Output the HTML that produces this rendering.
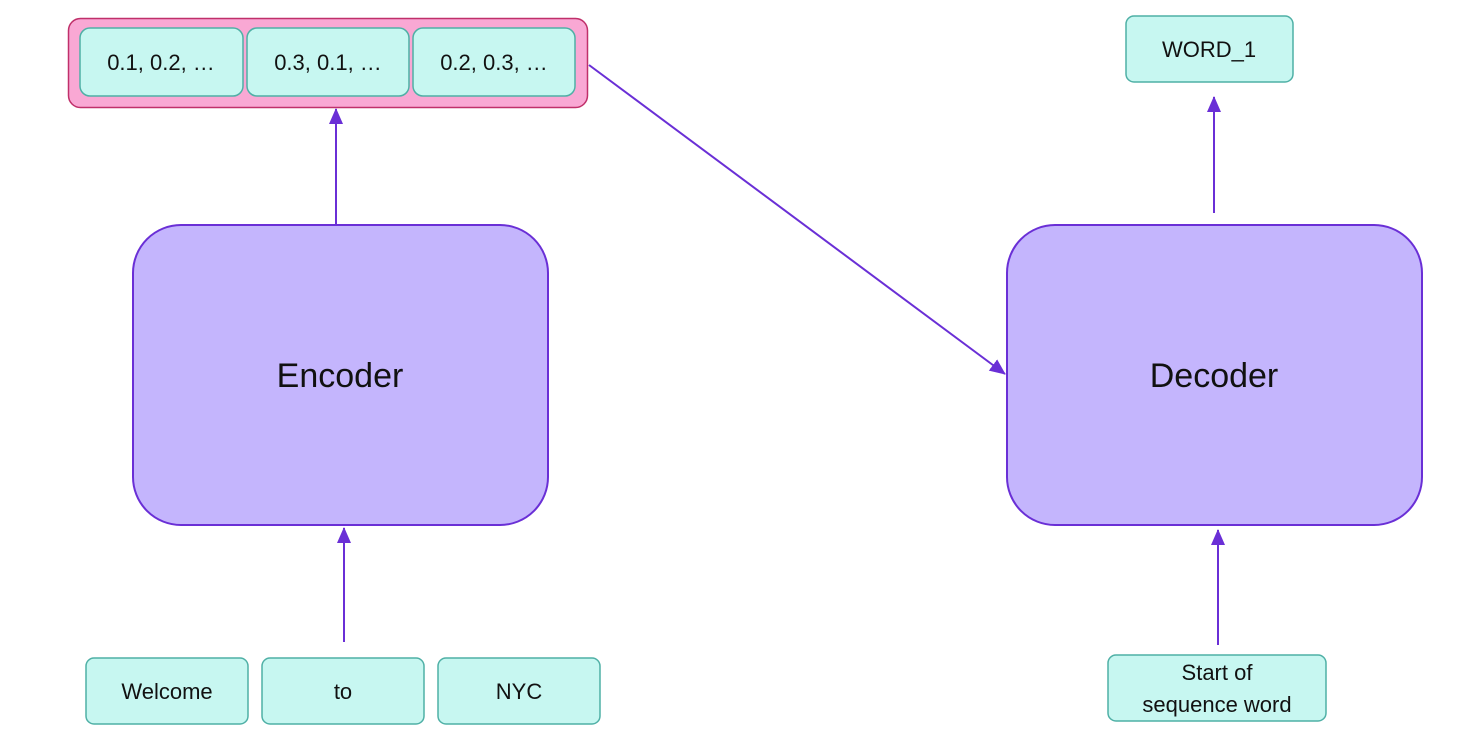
<!DOCTYPE html>
<html><head><meta charset="utf-8"><style>
html,body{margin:0;padding:0;background:#fff;}
svg{display:block;}
text{font-family:"Liberation Sans",sans-serif;fill:#111;}
</style></head><body>
<svg width="1465" height="735" viewBox="0 0 1465 735" xmlns="http://www.w3.org/2000/svg">
<defs>
<marker id="a" markerWidth="10" markerHeight="10" refX="9" refY="5" orient="auto" markerUnits="userSpaceOnUse" viewBox="0 0 10 10">
<path d="M0,0 L10,5 L0,10 z" fill="#6a2fd6" transform="scale(1)"/>
</marker>
<marker id="b" markerWidth="16" markerHeight="16" refX="15" refY="8" orient="auto" markerUnits="userSpaceOnUse">
<path d="M0,1 L16,8 L0,15 z" fill="#6a2fd6"/>
</marker>
</defs>
<rect x="68.5" y="18.5" width="519" height="89" rx="12" fill="#f9a8d4" stroke="#c0306a" stroke-width="1.5"/>
<g fill="#c7f7f1" stroke="#4fb0a6" stroke-width="1.5">
<rect x="80" y="28" width="163" height="68" rx="10"/>
<rect x="247" y="28" width="162" height="68" rx="10"/>
<rect x="413" y="28" width="162" height="68" rx="10"/>
<rect x="86" y="658" width="162" height="66" rx="8"/>
<rect x="262" y="658" width="162" height="66" rx="8"/>
<rect x="438" y="658" width="162" height="66" rx="8"/>
<rect x="1126" y="16" width="167" height="66" rx="8"/>
<rect x="1108" y="655" width="218" height="66" rx="8"/>
</g>
<g font-size="22" text-anchor="middle">
<text x="161" y="70">0.1, 0.2, …</text>
<text x="328" y="70">0.3, 0.1, …</text>
<text x="494" y="70">0.2, 0.3, …</text>
<text x="167" y="699">Welcome</text>
<text x="343" y="699">to</text>
<text x="519" y="699">NYC</text>
<text x="1209" y="57">WORD_1</text>
<text x="1217" y="680">Start of</text>
<text x="1217" y="712">sequence word</text>
</g>
<g fill="#c4b5fd" stroke="#6a2fd6" stroke-width="2">
<rect x="133" y="225" width="415" height="300" rx="48"/>
<rect x="1007" y="225" width="415" height="300" rx="48"/>
</g>
<g font-size="34" text-anchor="middle">
<text x="340" y="387">Encoder</text>
<text x="1214" y="387">Decoder</text>
</g>
<g stroke="#6a2fd6" stroke-width="2" fill="none" marker-end="url(#b)">
<line x1="336" y1="224" x2="336" y2="109"/>
<line x1="344" y1="642" x2="344" y2="528"/>
<line x1="589" y1="65" x2="1005" y2="374"/>
<line x1="1214" y1="213" x2="1214" y2="97"/>
<line x1="1218" y1="645" x2="1218" y2="530"/>
</g>
</svg>
</body></html>
